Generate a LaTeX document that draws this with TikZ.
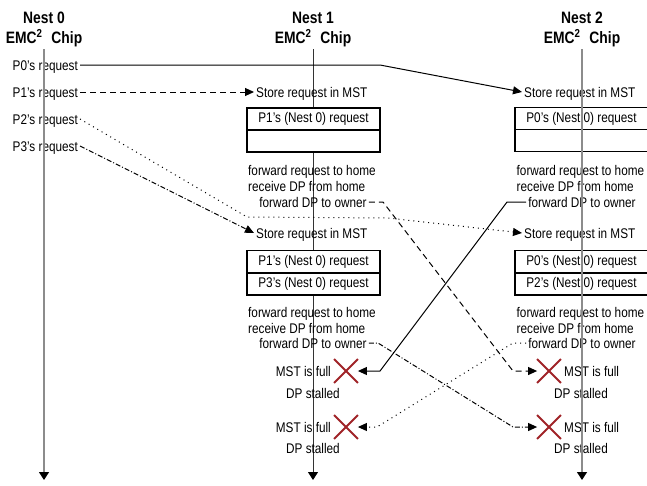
\documentclass[tikz,border=0pt]{standalone}
\usepackage{fontspec}
\setmainfont{Liberation Sans}[FakeStretch=0.84]
\usetikzlibrary{arrows.meta,shapes.misc}
\definecolor{xred}{RGB}{160,35,40}
\definecolor{lifegray}{RGB}{140,140,140}
\begin{document}
\begin{tikzpicture}[x=1pt,y=-1pt,
  txt/.style={inner sep=2pt, font=\fontsize{14}{16}\selectfont, text height=10pt, text depth=0pt},
  hdtxt/.style={inner sep=0pt, font=\bfseries\fontsize{16.5}{18}\selectfont},
  rowbox/.style={draw, line width=1.8pt, fill=white, minimum width=133pt, minimum height=22pt, inner sep=0pt, font=\fontsize{14}{16}\selectfont},
  xmark/.style={cross out, draw=xred, line width=1.8pt, minimum size=22pt, inner sep=0pt},
  conn/.style={line width=1pt, -{Triangle[length=9pt,width=8pt]}},
  dsh/.style={dash pattern=on 6pt off 4pt},
  dtt/.style={dash pattern=on 1pt off 4pt},
  dshdt/.style={dash pattern=on 5pt off 2pt on 1pt off 2pt},
  lifeln/.style={line width=1.2pt, -{Triangle[length=8pt,width=10pt,color=black]}},
]
\useasboundingbox (0,0) rectangle (647,485);

% lifeline coordinates
\coordinate (t0) at (44,49);  \coordinate (e0) at (44,480);
\coordinate (t1) at (313,49); \coordinate (e1) at (313,480);
\coordinate (t2) at (582,49); \coordinate (e2) at (582,480);

% Nest 1 lifeline (behind boxes)
\draw[lifeln, line width=1pt, draw=black!80] (t1) -- (e1);

% headers
\node[hdtxt] (n0) at (44,17.5) {Nest 0};
\node[hdtxt] (c0) at (44,38) {EMC\textsuperscript{2}\hspace{9pt}Chip};
\node[hdtxt] (n1) at (313,17.5) {Nest 1};
\node[hdtxt] (c1) at (313,38) {EMC\textsuperscript{2}\hspace{9pt}Chip};
\node[hdtxt] (n2) at (582,17.5) {Nest 2};
\node[hdtxt] (c2) at (582,38) {EMC\textsuperscript{2}\hspace{9pt}Chip};

% requests
\node[txt, anchor=west] (p0) at (10.5,65) {P0's request};
\node[txt, anchor=west] (p1) at (10.5,92) {P1's request};
\node[txt, anchor=west] (p2) at (10.5,119) {P2's request};
\node[txt, anchor=west] (p3) at (10.5,146) {P3's request};

% store nodes
\node[txt, anchor=west] (s1a) at (254,92) {Store request in MST};
\node[txt, anchor=west] (s2a) at (522,92) {Store request in MST};
\node[txt, anchor=west] (s1b) at (254,233) {Store request in MST};
\node[txt, anchor=west] (s2b) at (522,233) {Store request in MST};

% MST boxes
\node[rowbox] (b1a) at (313.5,119) {P1's (Nest 0) request};
\node[rowbox] (b1b) at (313.5,141) {};
\node[rowbox] (b1c) at (313.5,261.5) {P1's (Nest 0) request};
\node[rowbox] (b1d) at (313.5,284) {P3's (Nest 0) request};
\node[rowbox] (b2a) at (581.5,118.5) {P0's (Nest 0) request};
\node[rowbox] (b2b) at (581.5,140.5) {};
\node[rowbox] (b2c) at (581.5,261.5) {P0's (Nest 0) request};
\node[rowbox] (b2d) at (581.5,284) {P2's (Nest 0) request};

% action texts
\node[txt, anchor=west] (f1a) at (246,170) {forward request to home};
\node[txt, anchor=west] (r1a) at (246,186) {receive DP from home};
\node[txt] (o1a) at (313,202) {forward DP to owner};
\node[txt, anchor=west] (f1b) at (246,312) {forward request to home};
\node[txt, anchor=west] (r1b) at (246,328) {receive DP from home};
\node[txt] (o1b) at (313,343) {forward DP to owner};
\node[txt, anchor=west] (f2a) at (514.5,170) {forward request to home};
\node[txt, anchor=west] (r2a) at (514.5,186) {receive DP from home};
\node[txt] (o2a) at (582,202) {forward DP to owner};
\node[txt, anchor=west] (f2b) at (514.5,312) {forward request to home};
\node[txt, anchor=west] (r2b) at (514.5,328) {receive DP from home};
\node[txt] (o2b) at (582,343) {forward DP to owner};

% stalled marks
\node[xmark] (x1a) at (346,371) {};
\node[txt, anchor=east] (m1a) at (333,371) {MST is full};
\node[txt] (d1a) at (313,393) {DP stalled};
\node[xmark] (x1b) at (346,427) {};
\node[txt, anchor=east] (m1b) at (333,427) {MST is full};
\node[txt] (d1b) at (313,448) {DP stalled};
\node[xmark] (x2a) at (549,371) {};
\node[txt, anchor=west] (m2a) at (562,371) {MST is full};
\node[txt] (d2a) at (581,393) {DP stalled};
\node[xmark] (x2b) at (549,427) {};
\node[txt, anchor=west] (m2b) at (562,427) {MST is full};
\node[txt] (d2b) at (581,448) {DP stalled};

% request connectors
\draw[conn] (p0.east) -- (380,65) -- (s2a.west);
\draw[conn, dsh] (p1.east) -- (s1a.west);
\draw[conn, dtt] (p2.east) -- (247,217) -- (388,218) -- (s2b.west);
\draw[conn, dshdt] (p3.east) -- (s1b.west);

% DP connectors
\draw[conn] (o2a.west) -- (507,202) -- (380,371) -- (x1a.east);
\draw[conn, dsh] (o1a.east) -- (383,202) -- (513,371) -- (x2a.west);
\draw[conn, dshdt] (o1b.east) -- (378,343) -- (513,427) -- (x2b.west);
\draw[conn, dtt] (o2b.west) -- (513,343) -- (377,427) -- (x1b.east);

% gray lifelines on top
\draw[lifeln, draw=lifegray] (t0) -- (e0);
\draw[lifeln, draw=lifegray] (t2) -- (e2);
\end{tikzpicture}
\end{document}
